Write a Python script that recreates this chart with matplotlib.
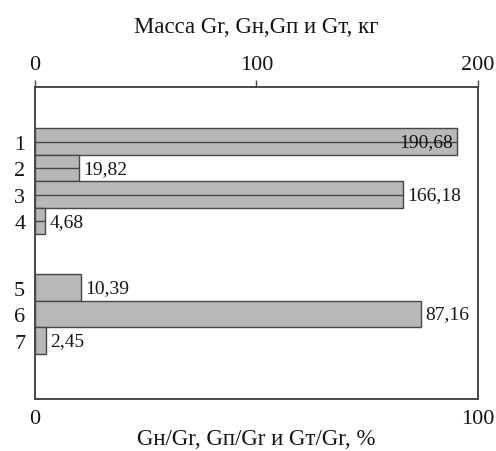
import matplotlib
matplotlib.use("Agg")
import matplotlib.pyplot as plt

plt.rcParams['font.family'] = ['Liberation Serif', 'DejaVu Serif']

# Row labels and values
row_labels = ['1', '2', '3', '4', '5', '6', '7']
mass_values = [190.68, 19.82, 166.18, 4.68]      # kg, top axis
ratio_values = [10.39, 87.16, 2.45]               # %, bottom axis
mass_ticks = [0, 100, 200]
ratio_ticks = [0, 100]
top_title = 'Масса Gr, Gн,Gп и Gт, кг'
bottom_title = 'Gн/Gr, Gп/Gr и Gт/Gr, %'

fill = '#b8b8b8'
edge = '#474747'
txt = '#151515'
fs_val = 14
fs_tick = 16
fs_title = 16.5

fig = plt.figure(figsize=(4.96, 4.52), dpi=100)
ax = fig.add_axes([0.0706, 0.115, 0.893, 0.69])
ax_top = ax.twiny()

# vertical layout: mass rows 1-4, a gap, then ratio rows
mass_pos = [1, 2, 3, 4]
ratio_pos = [6.5, 7.5, 8.5]
all_pos = mass_pos + ratio_pos

ax.set_xlim(ratio_ticks[0], ratio_ticks[-1])
ax_top.set_xlim(mass_ticks[0], mass_ticks[-1])
ax.set_ylim(10.7, -1.05)


def fmt(v):
    return f"{v:.2f}".replace('.', ',')


def annotate(a, v, y, xmax):
    if v / xmax > 0.9:
        a.annotate(fmt(v), xy=(v, y), xytext=(-3, 0), textcoords='offset points',
                   ha='right', va='center', fontsize=fs_val, color=txt)
    else:
        a.annotate(fmt(v), xy=(v, y), xytext=(3, 0), textcoords='offset points',
                   ha='left', va='center', fontsize=fs_val, color=txt)


ax_top.barh(mass_pos, mass_values, height=1.0, color=fill, edgecolor=edge, linewidth=1.0)
ax_top.hlines(mass_pos, 0, mass_values, color=edge, linewidth=1.0)
for v, y in zip(mass_values, mass_pos):
    annotate(ax_top, v, y, mass_ticks[-1])

ax.barh(ratio_pos, ratio_values, height=1.0, color=fill, edgecolor=edge, linewidth=1.0)
for v, y in zip(ratio_values, ratio_pos):
    annotate(ax, v, y, ratio_ticks[-1])

ax.set_yticks(all_pos)
ax.set_yticklabels(row_labels, fontsize=fs_tick, color=txt)
ax.tick_params(axis='y', length=0, pad=7)

ax.set_xticks(ratio_ticks)
ax.set_xticklabels([str(t) for t in ratio_ticks], fontsize=fs_tick, color=txt)
ax.tick_params(axis='x', length=0, pad=7.5)
ax.set_xlabel(bottom_title, fontsize=fs_title, labelpad=0, color=txt)

ax_top.set_xticks(mass_ticks)
ax_top.set_xticklabels([str(t) for t in mass_ticks], fontsize=fs_tick, color=txt)
ax_top.tick_params(axis='x', length=5, width=1.0, color=edge, pad=4.7)
ax_top.set_xlabel(top_title, fontsize=fs_title, labelpad=16.5, color=txt)

for a in (ax, ax_top):
    for s in a.spines.values():
        s.set_color(edge)
        s.set_linewidth(1.2)

fig.savefig('out.png', dpi=100)
